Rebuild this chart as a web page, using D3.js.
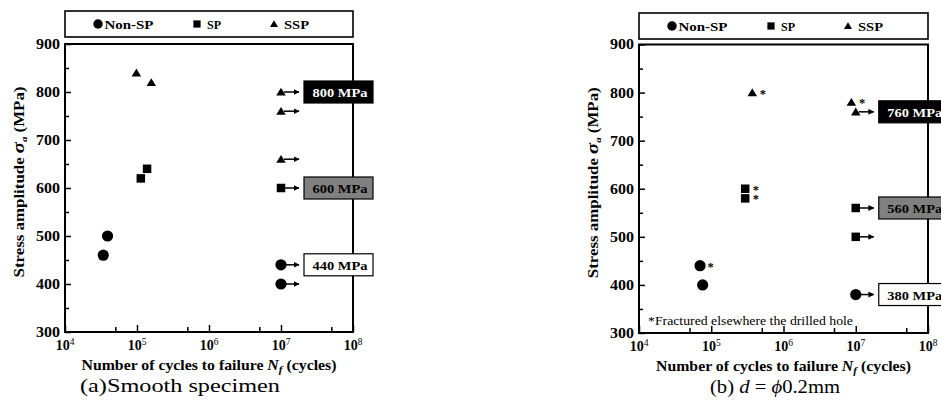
<!DOCTYPE html>
<html>
<head>
<meta charset="utf-8">
<script src="https://cdn.jsdelivr.net/npm/d3@7"></script>
<style>
  body { margin: 0; background: #fff; }
  svg { display: block; font-family: "Liberation Serif", "Times New Roman", serif; }
</style>
</head>
<body>
<div id="chart"></div>
<script>
// data
const seriesNames = ["Non-SP", "SP", "SSP"];
const yTicks = [300, 400, 500, 600, 700, 800, 900];
const yMinor = [350, 450, 550, 650, 750, 850];
const xExps = [4, 5, 6, 7, 8];
const xMinor = [5e4, 5e5, 5e6, 5e7];

// (a) smooth specimen: [cycles, stress, fractured elsewhere]
const aNonSP = [[3.4e4, 460, false], [3.9e4, 500, false]];
const aSP = [[1.13e5, 620, false], [1.38e5, 640, false]];
const aSSP = [[9.8e4, 840, false], [1.58e5, 820, false]];
// run-outs: [series, cycles, stress]
const aRunout = [["SSP", 1e7, 800], ["SSP", 1e7, 760], ["SSP", 1e7, 660],
                 ["SP", 1e7, 600], ["Non-SP", 1e7, 440], ["Non-SP", 1e7, 400]];
const aLimits = [800, 600, 440];

// (b) d = 0.2mm
const bNonSP = [[7.0e4, 440, true], [7.6e4, 400, false]];
const bSP = [[2.95e5, 600, true], [2.95e5, 580, true]];
const bSSP = [[3.7e5, 800, true], [8.7e6, 780, true]];
const bRunout = [["SSP", 1e7, 760], ["SP", 1e7, 560], ["SP", 1e7, 500], ["Non-SP", 1e7, 380]];
const bLimits = [760, 560, 380];

const width = 941, height = 409;
const svg = d3.select("#chart").append("svg")
    .attr("width", width).attr("height", height);

const defs = svg.append("defs");
defs.append("marker")
    .attr("id", "arrow")
    .attr("viewBox", "0 0 10 10")
    .attr("refX", 9).attr("refY", 5)
    .attr("markerWidth", 6).attr("markerHeight", 6)
    .attr("markerUnits", "userSpaceOnUse")
    .attr("orient", "auto")
  .append("path")
    .attr("d", "M0,0L10,5L0,10Z")
    .attr("fill", "#000");

// the original figure is a little stretched sideways, so stretch text to its width
function fit(sel, w) {
  return sel.attr("textLength", w).attr("lengthAdjust", "spacingAndGlyphs");
}

// marker shapes
function drawMarker(g, name, cx, cy, big) {
  const k = big ? 1 : 0.85;
  if (name === "Non-SP") {
    g.append("circle").attr("cx", cx).attr("cy", cy).attr("r", 5.6 * k).attr("fill", "#000");
  } else if (name === "SP") {
    const s = 8.5 * k;
    g.append("rect").attr("x", cx - s / 2).attr("y", cy - s / 2)
      .attr("width", s).attr("height", s).attr("fill", "#000");
  } else {
    const s = 9.5 * k;
    g.append("path")
      .attr("d", `M${cx},${cy - s * 0.45}L${cx + s / 2},${cy + s * 0.38}L${cx - s / 2},${cy + s * 0.38}Z`)
      .attr("fill", "#000");
  }
}

function drawPanel(p) {
  const x = d3.scaleLog().domain([1e4, 1e8]).range([p.left, p.right]);
  const y = d3.scaleLinear().domain([300, 900]).range([p.bottom, p.top]);
  const g = svg.append("g");

  // legend box
  g.append("rect")
    .attr("x", p.left).attr("y", p.legTop)
    .attr("width", p.right - p.left).attr("height", 26)
    .attr("fill", "#fff").attr("stroke", "#000").attr("stroke-width", 1.6);
  const legY = p.legTop + 13;
  const legOffs = [[33, 6.5, 49], [132, 10, 14], [209, 10, 25]];
  seriesNames.forEach((name, i) => {
    const cx = p.left + legOffs[i][0];
    drawMarker(g, name, cx, legY, false);
    fit(g.append("text")
      .attr("x", cx + legOffs[i][1]).attr("y", legY + 5)
      .attr("font-size", 13).attr("font-weight", "bold")
      .text(name), legOffs[i][2]);
  });

  // axes (ticks inward)
  g.append("g").attr("transform", `translate(${p.left},0)`)
    .call(d3.axisLeft(y).tickValues(yTicks).tickSize(-6).tickPadding(5).tickFormat(d3.format("d")))
    .call(a => a.select(".domain").remove())
    .call(a => a.selectAll("text").attr("font-size", 14).attr("font-weight", "bold")
      .attr("font-family", "Liberation Serif").attr("fill", "#000")
      .attr("textLength", 24).attr("lengthAdjust", "spacingAndGlyphs"))
    .call(a => a.selectAll("line").attr("stroke-width", 1.5));
  g.append("g").attr("transform", `translate(${p.left},0)`)
    .call(d3.axisLeft(y).tickValues(yMinor).tickSize(-4).tickFormat(""))
    .call(a => a.select(".domain").remove())
    .call(a => a.selectAll("line").attr("stroke-width", 1.5));
  g.append("g").attr("transform", `translate(0,${p.bottom})`)
    .call(d3.axisBottom(x).tickValues(xExps.map(e => Math.pow(10, e))).tickSize(-7).tickFormat(""))
    .call(a => a.select(".domain").remove())
    .call(a => a.selectAll("line").attr("stroke-width", 1.5));
  g.append("g").attr("transform", `translate(0,${p.bottom})`)
    .call(d3.axisBottom(x).tickValues(xMinor).tickSize(-5).tickFormat(""))
    .call(a => a.select(".domain").remove())
    .call(a => a.selectAll("line").attr("stroke-width", 1.5));

  // frame
  g.append("rect")
    .attr("x", p.left).attr("y", p.top)
    .attr("width", p.right - p.left).attr("height", p.bottom - p.top)
    .attr("fill", "none").attr("stroke", "#000").attr("stroke-width", 2);

  // x tick labels with superscripts
  xExps.forEach(e => {
    const t = g.append("text")
      .attr("x", x(Math.pow(10, e))).attr("y", p.bottom + 18)
      .attr("text-anchor", "middle").attr("font-size", 14).attr("font-weight", "bold");
    t.append("tspan").text("10");
    t.append("tspan").attr("dy", -5.5).attr("font-size", 9.5).attr("font-weight", "normal").text(e);
  });

  // axis titles
  const xt = g.append("text")
    .attr("x", (p.left + p.right) / 2).attr("y", p.bottom + 38)
    .attr("text-anchor", "middle").attr("font-size", 14).attr("font-weight", "bold");
  xt.append("tspan").text("Number of cycles to failure ");
  xt.append("tspan").attr("font-style", "italic").text("N");
  xt.append("tspan").attr("font-style", "italic").attr("font-size", 10).attr("dy", 3).text("f");
  xt.append("tspan").attr("dy", -3).text(" (cycles)");
  fit(xt, 255);

  const yt = g.append("text")
    .attr("transform", `translate(${p.left - 41},${(p.top + p.bottom) / 2 - 6}) rotate(-90)`)
    .attr("text-anchor", "middle").attr("font-size", 14).attr("font-weight", "bold");
  yt.append("tspan").text("Stress amplitude   ");
  yt.append("tspan").attr("font-style", "italic").attr("font-size", 17).text("σ");
  yt.append("tspan").attr("font-style", "italic").attr("font-size", 9).attr("dy", 3).text("a");
  yt.append("tspan").attr("dy", -3).text(" (MPa)");
  fit(yt, 191);

  // failure points
  p.points.forEach((pts, i) => {
    pts.forEach(d => {
      drawMarker(g, seriesNames[i], x(d[0]), y(d[1]), true);
      if (d[2]) {
        g.append("text")
          .attr("x", x(d[0]) + 7.5).attr("y", y(d[1]) + 5)
          .attr("font-size", 12.5).attr("font-weight", "bold").text("*");
      }
    });
  });

  // run-outs with arrows
  p.runout.forEach(d => {
    const cx = x(d[1]), cy = y(d[2]);
    g.append("line")
      .attr("x1", cx + 3).attr("x2", cx + 18)
      .attr("y1", cy).attr("y2", cy)
      .attr("stroke", "#000").attr("stroke-width", 1.5)
      .attr("marker-end", "url(#arrow)");
    drawMarker(g, d[0], cx, cy, true);
  });

  // fatigue limit labels
  const fills = ["#000", "#808080", "#fff"];
  const colors = ["#fff", "#000", "#000"];
  p.limits.forEach((v, i) => {
    const bx = x(1e7) + 23, by = y(v);
    g.append("rect")
      .attr("x", bx).attr("y", by - 11).attr("width", 69).attr("height", 22)
      .attr("fill", fills[i]).attr("stroke", "#000").attr("stroke-width", 1.2);
    fit(g.append("text")
      .attr("x", bx + 36).attr("y", by + 5)
      .attr("text-anchor", "middle").attr("font-size", 13.5).attr("font-weight", "bold")
      .attr("fill", colors[i]).text(v + " MPa"), 55);
  });

  if (p.note) {
    fit(g.append("text")
      .attr("x", p.left + 9).attr("y", p.bottom - 8)
      .attr("font-size", 12.5).text(p.note), 205);
  }

  // caption
  const cap = g.append("text")
    .attr("x", p.capX).attr("y", p.bottom + 60)
    .attr("text-anchor", "middle").attr("font-size", 18);
  p.caption(cap);
}

drawPanel({
  left: 65, right: 353, top: 44, bottom: 332, legTop: 11,
  points: [aNonSP, aSP, aSSP], runout: aRunout, limits: aLimits,
  capX: 180,
  caption: t => fit(t.text("(a)Smooth specimen"), 200)
});

drawPanel({
  left: 639, right: 928, top: 44.5, bottom: 333, legTop: 13,
  points: [bNonSP, bSP, bSSP], runout: bRunout, limits: bLimits,
  note: "*Fractured elsewhere the drilled hole",
  capX: 775,
  caption: t => {
    t.append("tspan").text("(b) ");
    t.append("tspan").attr("font-style", "italic").text("d");
    t.append("tspan").text(" = ");
    t.append("tspan").attr("font-style", "italic").text("ϕ");
    t.append("tspan").text("0.2mm");
    fit(t, 130);
  }
});
</script>
</body>
</html>
